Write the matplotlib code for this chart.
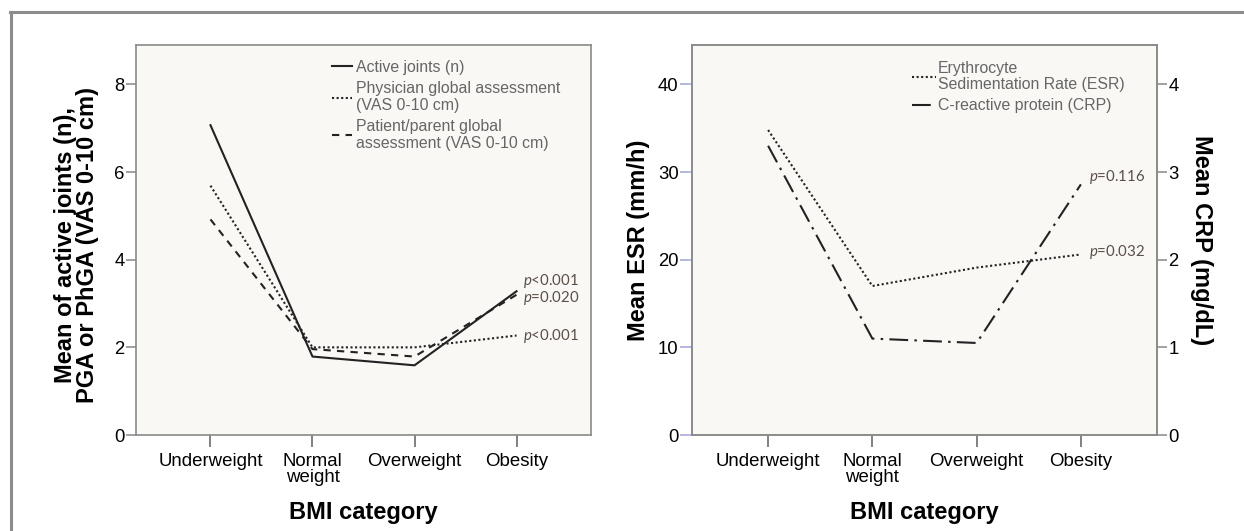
import matplotlib
matplotlib.use("Agg")
import matplotlib.pyplot as plt
from matplotlib.lines import Line2D

plt.rcParams['font.family'] = ['Liberation Sans', 'DejaVu Sans']
plt.rcParams['mathtext.fontset'] = 'custom'
plt.rcParams['mathtext.it'] = 'Lato:italic'
plt.rcParams['mathtext.rm'] = 'Lato'

categories = ["Underweight", "Normal\nweight", "Overweight", "Obesity"]
active_joints = [7.07, 1.79, 1.59, 3.28]
phga = [5.69, 2.00, 2.00, 2.27]
pga = [4.92, 1.96, 1.79, 3.20]
esr = [34.8, 17.0, 19.1, 20.6]
crp = [3.30, 1.10, 1.05, 2.86]
p_left = ["$p$<0.001", "$p$<0.001", "$p$=0.020"]
p_right = ["$p$=0.032", "$p$=0.116"]

W, H = 1244, 531
fig = plt.figure(figsize=(W / 100, H / 100), dpi=100)
PT = 72 / 100  # points per pixel

line_col = "#222222"
spine_col = "#8a8a8a"
face = "#f9f8f5"
leg_col = "#666666"
p_col = "#5a5048"

def px_ax(x0, x1, ytop, ybot):
    return [x0 / W, 1 - ybot / H, (x1 - x0) / W, (ybot - ytop) / H]

def style(ax, tickcol, ylen):
    ax.set_facecolor(face)
    for s in ax.spines.values():
        s.set_color(spine_col)
        s.set_linewidth(1.2)
    ax.tick_params(axis='y', length=ylen * PT, width=1.1, color=tickcol, labelsize=13.3,
                   pad=1.5 * PT)
    ax.tick_params(axis='x', length=12 * PT, width=1.3, color="#777777", labelsize=13.4,
                   pad=6 * PT)

x = list(range(len(categories)))
XLIM = (-0.73, 3.73)

# ---------- Left panel ----------
ax1 = fig.add_axes(px_ax(136, 591, 45, 435))
style(ax1, "#888888", 10)
l1, = ax1.plot(x, active_joints, color=line_col, lw=1.5, ls='-')
l2, = ax1.plot(x, phga, color=line_col, lw=1.5, ls=(0, (1, 1.2)))
l3, = ax1.plot(x, pga, color=line_col, lw=1.5, ls=(0, (3.5, 3)))
ax1.set_xlim(*XLIM)
ax1.set_ylim(0, 8.9)
ax1.set_yticks([0, 2, 4, 6, 8])
ax1.set_xticks(x)
ax1.set_xticklabels(categories, linespacing=0.95)
ax1.set_xlabel("BMI category", fontsize=17, fontweight='bold')
ax1.xaxis.set_label_coords(0.5, -0.2)
ax1.xaxis.label.set_verticalalignment('center')
ax1.set_ylabel("Mean of active joints (n),\nPGA or PhGA (VAS 0-10 cm)", fontsize=17,
               fontweight='bold', linespacing=0.95)
ax1.yaxis.set_label_coords(-0.13, 0.487)
ax1.yaxis.label.set_verticalalignment('center')
leg1 = ax1.legend([l1, l2, l3],
                  ["Active joints (n)", "Physician global assessment\n(VAS 0-10 cm)",
                   "Patient/parent global\nassessment (VAS 0-10 cm)"],
                  loc='upper left', bbox_to_anchor=(0.431, 0.962), frameon=False,
                  borderaxespad=0, borderpad=0,
                  fontsize=11.4, handlelength=1.25, handletextpad=0.25, labelspacing=0.42,
                  labelcolor=leg_col)
for t in leg1.get_texts():
    t.set_linespacing(1.1)

for val, lab, dy in zip([active_joints[3], phga[3], pga[3]], p_left, [10, 0, -3]):
    ax1.annotate(lab, xy=(3, val), xytext=(6, dy), textcoords='offset pixels',
                 fontsize=10.8, color=p_col, family='Lato', va='center', ha='left')

# ---------- Right panel ----------
ax2 = fig.add_axes(px_ax(692, 1157, 45, 435))
style(ax2, "#a3a3e0", 12)
ax3 = ax2.twinx()
for s in ax3.spines.values():
    s.set_color(spine_col)
    s.set_linewidth(1.2)
ax3.tick_params(axis='y', length=10 * PT, width=1.1, color="#888888", labelsize=13.3,
                pad=1.5 * PT)

e1, = ax2.plot(x, esr, color=line_col, lw=1.5, ls=(0, (1, 1.2)))
c1, = ax3.plot(x, crp, color=line_col, lw=1.5, ls=(0, (9, 3, 1.2, 3)))
ax2.set_xlim(*XLIM)
ax2.set_ylim(0, 44.5)
ax3.set_ylim(0, 4.45)
ax2.set_yticks([0, 10, 20, 30, 40])
ax3.set_yticks([0, 1, 2, 3, 4])
ax2.set_xticks(x)
ax2.set_xticklabels(categories, linespacing=0.95)
ax2.set_xlabel("BMI category", fontsize=17, fontweight='bold')
ax2.xaxis.set_label_coords(0.5, -0.2)
ax2.xaxis.label.set_verticalalignment('center')
ax2.set_ylabel("Mean ESR (mm/h)", fontsize=17, fontweight='bold')
ax2.yaxis.set_label_coords(-0.116, 0.5)
ax2.yaxis.label.set_verticalalignment('center')
ax3.set_ylabel("Mean CRP (mg/dL)", fontsize=17, fontweight='bold', rotation=270)
ax3.yaxis.set_label_coords(1.095, 0.5)
ax3.yaxis.label.set_verticalalignment('center')
leg2 = ax3.legend([e1, c1],
                  ["Erythrocyte\nSedimentation Rate (ESR)", "C-reactive protein (CRP)"],
                  loc='upper left', bbox_to_anchor=(0.473, 0.96), frameon=False,
                  borderaxespad=0, borderpad=0,
                  fontsize=11.4, handlelength=1.5, handletextpad=0.15, labelspacing=0.42,
                  labelcolor=leg_col)
for t in leg2.get_texts():
    t.set_linespacing(1.1)

ax2.annotate(p_right[0], xy=(3, esr[3]), xytext=(8, 2), textcoords='offset pixels',
             fontsize=10.8, color=p_col, family='Lato', va='center', ha='left')
ax3.annotate(p_right[1], xy=(3, crp[3]), xytext=(8, 7), textcoords='offset pixels',
             fontsize=10.8, color=p_col, family='Lato', va='center', ha='left')

# ---------- outer frame ----------
fig.add_artist(Line2D([10 / W, 1.0], [1 - 12 / H, 1 - 12 / H], color="#8c8c8c", lw=2.2,
                      transform=fig.transFigure))
fig.add_artist(Line2D([10.5 / W, 10.5 / W], [0, 1 - 12 / H], color="#8c8c8c", lw=2.2,
                      transform=fig.transFigure))

fig.savefig("out.png", dpi=100)
